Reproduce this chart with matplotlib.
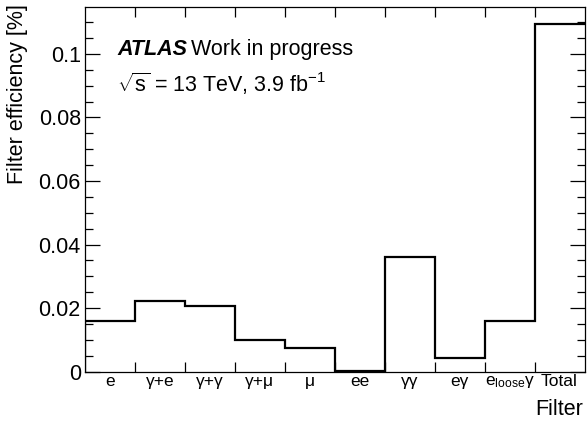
import matplotlib
matplotlib.use("Agg")
import matplotlib.pyplot as plt
import numpy as np
from matplotlib.ticker import MultipleLocator, FuncFormatter

plt.rcParams['font.family'] = ['Liberation Sans', 'DejaVu Sans']
plt.rcParams['mathtext.fontset'] = 'custom'
plt.rcParams['mathtext.rm'] = 'Liberation Sans'
plt.rcParams['mathtext.it'] = 'Liberation Sans:italic'
plt.rcParams['mathtext.bf'] = 'Liberation Sans:bold'

categories = ["e", "γ+e", "γ+γ", "γ+μ", "μ", "ee", "γγ", "eγ",
              r"e$_{\mathrm{loose}}$γ", "Total"]
efficiency = [0.0160, 0.0221, 0.0207, 0.0100, 0.0074, 0.0001, 0.0361,
              0.0042, 0.0158, 0.1094]

W, H = 587, 425
fig = plt.figure(figsize=(W / 100, H / 100), dpi=100)
ax = fig.add_axes([85 / W, (H - 371.6) / H, (584.5 - 85) / W, (371.6 - 7.2) / H])

n = len(categories)
edges = np.arange(n + 1)
ax.stairs(efficiency, edges, color='black', linewidth=1.6, baseline=None)
ax.plot([0, 0], [0, efficiency[0]], color='black', linewidth=1.6)

ax.set_xlim(0, n)
ax.set_ylim(0, 0.1147)

for s in ax.spines.values():
    s.set_linewidth(0.9)

ax.set_xticks(edges[1:-1])
ax.set_xticklabels([])
ax.set_xticks(edges[:-1] + 0.5, minor=True)
ax.set_xticklabels(categories, minor=True, fontsize=12.5)
ax.tick_params(axis='x', which='major', direction='in', length=7.5, width=0.9,
               top=True, bottom=True)
ax.tick_params(axis='x', which='minor', length=0, pad=2)

ax.yaxis.set_major_locator(MultipleLocator(0.02))
ax.yaxis.set_minor_locator(MultipleLocator(0.005))
ax.yaxis.set_major_formatter(FuncFormatter(lambda v, p: '%g' % round(v, 6)))
ax.tick_params(axis='y', which='major', direction='in', length=11, width=0.9,
               left=True, right=True, labelsize=15.5, pad=3)
ax.tick_params(axis='y', which='minor', direction='in', length=6, width=0.9,
               left=True, right=True)

fig.text(18 / W, 1 - 4 / H, "Filter efficiency [%]", rotation=90,
         ha='center', va='top', fontsize=15.5)
fig.text(583 / W, 1 - 415 / H, "Filter", ha='right', va='baseline', fontsize=15.5)

fig.text(117 / W, 1 - 55 / H, "ATLAS", fontsize=15.5, fontweight='bold',
         fontstyle='italic', va='baseline', ha='left')
fig.text(191 / W, 1 - 55 / H, "Work in progress", fontsize=15.5,
         va='baseline', ha='left')
fig.text(117 / W, 1 - 92 / H, r"$\sqrt{\mathrm{s}}$ = 13 TeV, 3.9 fb$^{-1}$",
         fontsize=15.5, va='baseline', ha='left')

fig.savefig("out.png", dpi=100)
